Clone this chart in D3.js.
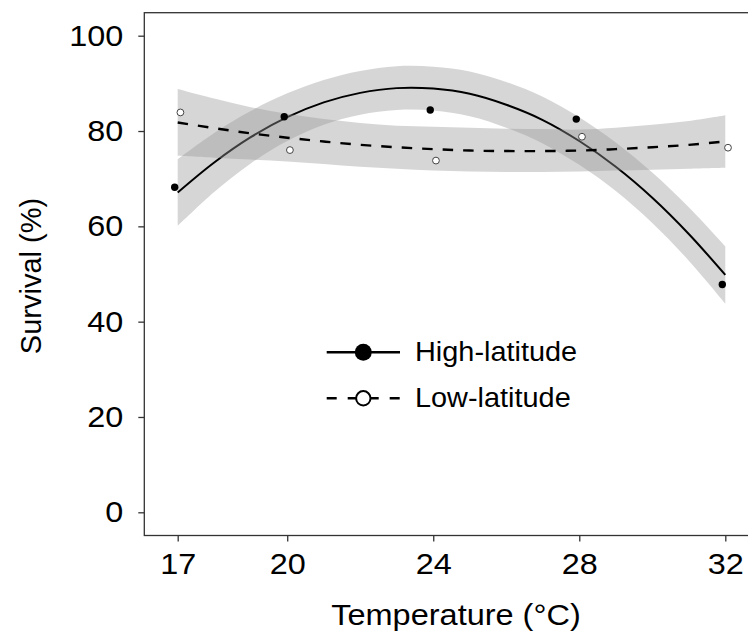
<!DOCTYPE html>
<html><head><meta charset="utf-8">
<script src="https://cdn.jsdelivr.net/npm/d3@7"></script>
<style>
body{margin:0;background:#fff}
text{font-family:"Liberation Sans",Arial,Helvetica,sans-serif;fill:#000}
</style>
</head><body>
<svg id="c" width="748" height="637"></svg>
<script>
// ---------- data ----------
const seriesNames = ["High-latitude", "Low-latitude"];
const temps = [17, 20, 24, 28, 32];
const highObs = [68.2, 83.0, 84.4, 82.5, 47.8];
const lowObs  = [83.9, 76.0, 73.8, 78.8, 76.5];

const fitTemps = [17,18,19,20,21,22,23,24,25,26,27,28,29,30,31,32];
const highFit = [67.1,73.4,78.7,82.9,86.0,88.0,89.0,88.9,87.8,85.5,82.3,77.9,72.5,66.0,58.4,49.8];
const highLo  = [60.1,67.2,73.2,77.9,81.3,83.4,84.4,84.3,83.1,80.7,77.4,72.9,67.4,60.7,52.8,43.8];
const highHi  = [74.1,79.6,84.2,87.9,90.7,92.6,93.6,93.5,92.5,90.3,87.2,82.9,77.6,71.3,64.0,55.8];
const lowFit  = [81.8,80.6,79.5,78.6,77.8,77.1,76.6,76.2,75.9,75.8,75.8,75.9,76.2,76.6,77.1,77.8];
const lowLo   = [74.8,74.4,74.0,73.6,73.1,72.5,72.1,71.7,71.5,71.4,71.4,71.5,71.7,71.9,72.1,72.3];
const lowHi   = [88.8,86.8,85.0,83.6,82.5,81.7,81.1,80.9,80.7,80.5,80.4,80.3,80.7,81.3,82.1,83.3];

const xTicks = [17, 20, 24, 28, 32];
const yTicks = [0, 20, 40, 60, 80, 100];
const xTitle = "Temperature (°C)";
const yTitle = "Survival (%)";

// ---------- layout ----------
const svg = d3.select("#c");
const pLeft = 144.3, pTop = 12.7, pBottom = 535.5;
const x = d3.scaleLinear().domain([17, 32]).range([177.7, 725.3]);
const y = d3.scaleLinear().domain([0, 100]).range([512.3, 35.7]);
const axisColor = "#333";
const FS = 30;

// widen glyphs horizontally (reference text is slightly wide)
function stretch(sel, k) {
  sel.each(function () {
    const L = this.getComputedTextLength();
    d3.select(this).attr("textLength", L * k).attr("lengthAdjust", "spacingAndGlyphs");
  });
}

// panel border (right edge lies outside the picture)
svg.append("rect").attr("x", pLeft).attr("y", pTop)
  .attr("width", 780 - pLeft).attr("height", pBottom - pTop)
  .attr("fill", "none").attr("stroke", axisColor).attr("stroke-width", 1.3);

function band(lo, hi) {
  return d3.area().x((d, i) => x(fitTemps[i])).y0((d, i) => y(lo[i])).y1((d, i) => y(hi[i]))
    .curve(d3.curveCatmullRom)(fitTemps);
}
function fitLine(v) {
  return d3.line().x((d, i) => x(fitTemps[i])).y((d, i) => y(v[i])).curve(d3.curveCatmullRom)(fitTemps);
}

svg.append("path").attr("d", band(highLo, highHi)).attr("fill", "#999").attr("fill-opacity", 0.4);
svg.append("path").attr("d", fitLine(highFit)).attr("fill", "none").attr("stroke", "#000").attr("stroke-width", 2);
svg.append("path").attr("d", band(lowLo, lowHi)).attr("fill", "#999").attr("fill-opacity", 0.4);
svg.append("path").attr("d", fitLine(lowFit)).attr("fill", "none").attr("stroke", "#000")
  .attr("stroke-width", 2.4).attr("stroke-dasharray", "10.5,10");

svg.selectAll(".hp").data(temps).enter().append("circle")
  .attr("cx", (d) => x(d) - 3).attr("cy", (d, i) => y(highObs[i])).attr("r", 3.7).attr("fill", "#000");
svg.selectAll(".lp").data(temps).enter().append("circle")
  .attr("cx", (d) => x(d) + 2.7).attr("cy", (d, i) => y(lowObs[i])).attr("r", 3.4)
  .attr("fill", "#fff").attr("stroke", "#444").attr("stroke-width", 1);

const gy = svg.append("g").attr("transform", `translate(${pLeft},0)`)
  .call(d3.axisLeft(y).tickValues(yTicks).tickSize(6).tickPadding(15).tickSizeOuter(0));
const gx = svg.append("g").attr("transform", `translate(0,${pBottom})`)
  .call(d3.axisBottom(x).tickValues(xTicks).tickSize(6).tickPadding(11).tickSizeOuter(0));
[gy, gx].forEach(g => {
  g.select(".domain").remove();
  g.selectAll(".tick line").attr("stroke", axisColor).attr("stroke-width", 1.3);
  g.selectAll(".tick text").attr("font-size", FS).attr("fill", "#000")
    .style("font-family", '"Liberation Sans",Arial,sans-serif');
  stretch(g.selectAll(".tick text"), 1.08);
});

const xt = svg.append("text").attr("x", 456).attr("y", 625).attr("text-anchor", "middle")
  .attr("font-size", 29).text(xTitle);
stretch(xt, 1.12);
svg.append("text").attr("transform", "translate(41,276) rotate(-90)").attr("text-anchor", "middle")
  .attr("font-size", 29).text(yTitle);

const lg = svg.append("g");
const rows = [352.3, 398.3];
lg.append("line").attr("x1", 326.7).attr("x2", 400).attr("y1", rows[0]).attr("y2", rows[0])
  .attr("stroke", "#000").attr("stroke-width", 2.5);
lg.append("circle").attr("cx", 363.3).attr("cy", rows[0]).attr("r", 8.5).attr("fill", "#000");
lg.append("line").attr("x1", 326.7).attr("x2", 400).attr("y1", rows[1]).attr("y2", rows[1])
  .attr("stroke", "#000").attr("stroke-width", 2.5).attr("stroke-dasharray", "10,11");
lg.append("circle").attr("cx", 363.3).attr("cy", rows[1]).attr("r", 7.2).attr("fill", "#fff")
  .attr("stroke", "#000").attr("stroke-width", 2);
seriesNames.forEach((n, i) => {
  const t = lg.append("text").attr("x", 415).attr("y", rows[i] + 9).attr("font-size", 27.5).text(n);
  stretch(t, 1.05);
});
</script>
</body></html>
